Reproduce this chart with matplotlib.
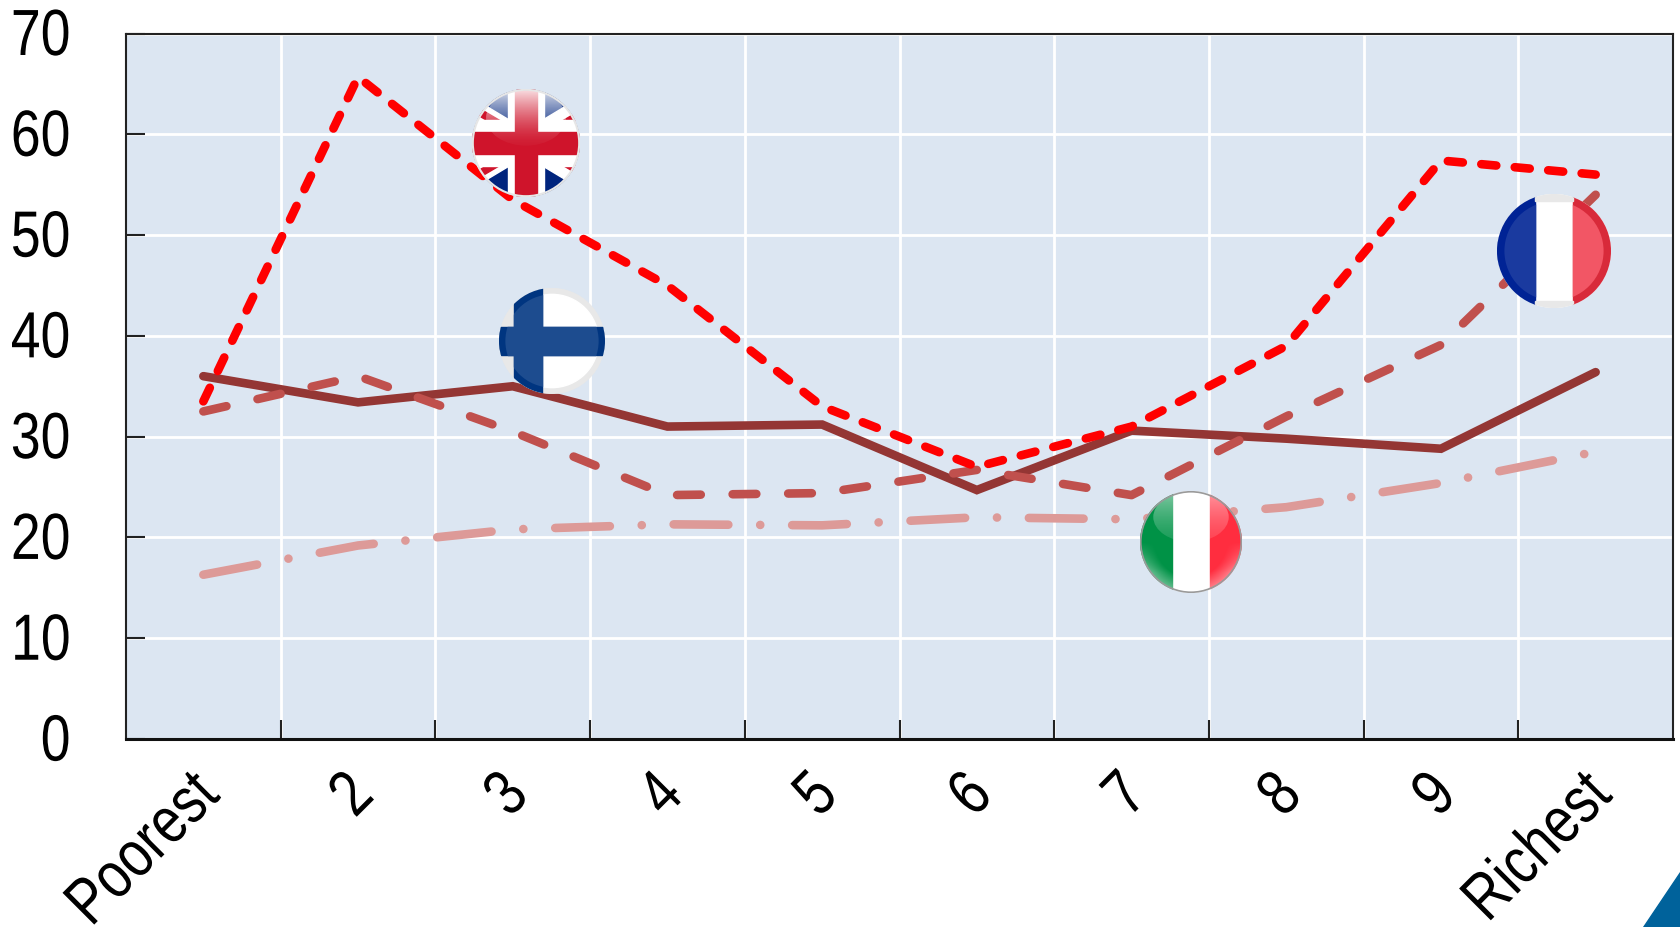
import numpy as np
import matplotlib
matplotlib.use("Agg")
import matplotlib.pyplot as plt
import matplotlib.patheffects as pe
from matplotlib.patches import Circle, Ellipse, Polygon, Rectangle
from matplotlib.transforms import Affine2D, ScaledTranslation

categories = ["Poorest", "2", "3", "4", "5", "6", "7", "8", "9", "Richest"]
uk = [33.5, 65.7, 53.5, 45.0, 33.0, 27.0, 31.0, 39.0, 57.4, 56.0]
finland = [36.0, 33.4, 35.0, 31.0, 31.2, 24.7, 30.6, 29.8, 28.8, 36.4]
france = [32.5, 36.0, 30.5, 24.2, 24.4, 26.7, 24.2, 32.0, 39.1, 54.0]
italy = [16.3, 19.2, 20.8, 21.3, 21.2, 22.0, 21.8, 23.0, 25.4, 28.5]
y_ticks = [0, 10, 20, 30, 40, 50, 60, 70]

W, H = 1681, 928
plt.rcParams["font.family"] = ["Liberation Sans", "DejaVu Sans"]
fig = plt.figure(figsize=(W / 100, H / 100), dpi=100, facecolor="white")


class Narrow(pe.AbstractPathEffect):
    """Condense text along its baseline about its right end or its middle."""

    def __init__(self, factor, pivot="end"):
        super().__init__()
        self.factor = factor
        self.pivot = pivot

    def draw_path(self, renderer, gc, tpath, affine, rgbFace=None):
        box = tpath.get_extents()
        at = box.x1 if self.pivot == "end" else (box.x0 + box.x1) / 2
        squeeze = Affine2D().translate(-at, 0).scale(self.factor, 1).translate(at, 0)
        renderer.draw_path(gc, tpath, squeeze + affine, rgbFace)


def px_axes(x0, y0, x1, y1, **kw):
    """Axes placed by pixel box, y measured from the top edge."""
    return fig.add_axes([x0 / W, 1 - y1 / H, (x1 - x0) / W, (y1 - y0) / H], **kw)


def nudge(label, dx, dy):
    label.set_transform(label.get_transform() + ScaledTranslation(dx / 100, dy / 100, fig.dpi_scale_trans))


ax = px_axes(126, 34.5, 1673, 740, facecolor="#dce6f2")
x = np.arange(len(categories)) + 0.5
lw = 6.2
ax.plot(x, italy, color="#dd9a98", lw=lw, dash_capstyle="round", dash_joinstyle="round",
        dashes=(6.35, 3.7, 0.01, 3.7), zorder=3)
ax.plot(x, finland, color="#943634", lw=lw, solid_capstyle="round", solid_joinstyle="miter", zorder=3)
ax.plot(x, france, color="#c0504d", lw=lw, dash_capstyle="round", dash_joinstyle="round",
        dashes=(2.75, 3.7), zorder=3)
ax.plot(x, uk, color="#ff0000", lw=lw, dash_capstyle="round", dash_joinstyle="round",
        dashes=(1.75, 2.15), zorder=4)

ax.set_xlim(0, len(categories))
ax.set_ylim(0, 70)
ax.set_yticks(y_ticks)
ax.set_yticklabels([str(v) for v in y_ticks])
ax.set_xticks(np.arange(1, len(categories)))
ax.set_xticklabels([])
ax.set_xticks(x, minor=True)
ax.set_xticklabels(categories, minor=True, rotation=45, ha="right", rotation_mode="anchor")
ax.grid(True, color="white", lw=2, zorder=1)
ax.set_axisbelow(True)
ax.tick_params(axis="x", which="major", direction="in", length=14, width=1.5, color="#222222")
ax.tick_params(axis="x", which="minor", length=0, pad=18, labelsize=47, labelcolor="black")
ax.tick_params(axis="y", direction="in", length=14, width=1.5, color="#222222", pad=61.5,
               labelsize=47, labelcolor="black")
for lab in ax.get_xticklabels(minor=True):
    lab.set_path_effects([Narrow(0.82)])
    nudge(lab, -15, 0)
for lab in ax.get_yticklabels():
    lab.set_ha("center")
    lab.set_path_effects([Narrow(0.82, pivot="mid")])
    # single digits stay flush with the right edge of the two-digit labels
    nudge(lab, 15 if len(lab.get_text()) == 1 else 0, 2)
for side in ("left", "top", "right"):
    ax.spines[side].set_linewidth(1.5)
    ax.spines[side].set_color("#222222")
ax.spines["bottom"].set_linewidth(2.2)
ax.spines["bottom"].set_color("#111111")


def badge(cx, cy, r):
    """Unit-square axes for a round flag, returning a clip circle too."""
    a = px_axes(cx - r, cy - r, cx + r, cy + r)
    a.set_xlim(-1, 1)
    a.set_ylim(-1, 1)
    a.axis("off")
    return a, Circle((0, 0), 1, transform=a.transData)


def add(a, clip, patch):
    a.add_patch(patch)
    patch.set_clip_path(clip)
    return patch


def gloss(a, peak=0.7, floor=0.1, base=0.0):
    """Soft highlight across the upper part of a badge."""
    grad = np.linspace(0, 1, 120)[:, None]
    rgba = np.ones((120, 1, 4))
    rgba[..., 3] = floor + (peak - floor) * grad ** 1.5
    im = a.imshow(rgba, extent=(-0.74, 0.74, base, 0.98), origin="lower", aspect="auto", zorder=8)
    im.set_clip_path(Ellipse((0, (base + 0.98) / 2), 1.48, 0.98 - base, transform=a.transData))
    a.set_xlim(-1, 1)
    a.set_ylim(-1, 1)


def under_glow(a, clip, peak=0.45):
    """Pale crescent along the lower rim of a badge."""
    yy, xx = np.mgrid[-1:1:160j, -1:1:160j]
    rgba = np.ones((160, 160, 4))
    rgba[..., 3] = peak * np.clip((np.hypot(xx, yy) - 0.7) / 0.3, 0, 1) * np.clip(-yy / 0.6, 0, 1)
    im = a.imshow(rgba, extent=(-1, 1, -1, 1), origin="lower", aspect="auto", zorder=7)
    im.set_clip_path(clip)
    a.set_xlim(-1, 1)
    a.set_ylim(-1, 1)


# Union Jack badge
a, c = badge(526, 144, 54)
add(a, c, Rectangle((-1, -1), 2, 2, color="#00247d", zorder=1))
for sx in (1, -1):
    add(a, c, Polygon([(-1.1, -0.9 * sx), (-1.1, -0.42 * sx), (1.1, 0.9 * sx), (1.1, 0.42 * sx)],
                      closed=True, color="white", zorder=2))
    add(a, c, Polygon([(-1.1, -0.78 * sx), (-1.1, -0.64 * sx), (1.1, 0.66 * sx), (1.1, 0.52 * sx)],
                      closed=True, color="#cf142b", zorder=3))
add(a, c, Rectangle((-1, -0.42), 2, 0.84, color="white", zorder=4))
add(a, c, Rectangle((-0.34, -1), 0.68, 2, color="white", zorder=4))
add(a, c, Rectangle((-1, -0.21), 2, 0.42, color="#cf142b", zorder=5))
add(a, c, Rectangle((-0.21, -1), 0.42, 2, color="#cf142b", zorder=5))
gloss(a, 0.85, 0.03, -0.05)
a.add_patch(Circle((0, 0), 0.985, fill=False, ec="#e6e6e6", lw=1.5, zorder=9))

# Finnish badge
a, c = badge(552, 342, 53)
add(a, c, Circle((0, 0), 1, color="#e8e8e8", zorder=1))
add(a, c, Circle((0, 0), 0.88, color="white", zorder=2))
add(a, c, Rectangle((-1, -1), 0.29, 2, color="#e8e8e8", zorder=2))
inner = Circle((0, 0), 0.88, transform=a.transData)
for box in (((-0.72, -1), 0.54, 2), ((-1, -0.27), 2, 0.54)):
    add(a, c, Rectangle(*box, color="#003580", zorder=3))
    add(a, inner, Rectangle(*box, color="#1d4c8f", zorder=4))

# Italian badge
a, c = badge(1191, 543, 51)
add(a, c, Rectangle((-1, -1), 2, 2, color="white", zorder=1))
add(a, c, Rectangle((-1, -1), 0.62, 2, color="#009246", zorder=2))
add(a, c, Rectangle((0.38, -1), 0.62, 2, color="#ff2d3f", zorder=2))
under_glow(a, c, 0.4)
gloss(a, 0.5, 0.12)
a.add_patch(Circle((0, 0), 0.985, fill=False, ec="#9a9a9a", lw=1.2, zorder=9))

# French badge
a, c = badge(1554, 252, 57)
add(a, c, Rectangle((-1, -1), 2, 2, color="white", zorder=1))
add(a, c, Rectangle((-1, -1), 0.67, 2, color="#002395", zorder=2))
add(a, c, Rectangle((0.33, -1), 0.67, 2, color="#d82a3a", zorder=2))
inner = Circle((0, 0), 0.87, transform=a.transData)
add(a, inner, Rectangle((-1, -1), 0.67, 2, color="#1a3a9f", zorder=3))
add(a, inner, Rectangle((0.33, -1), 0.67, 2, color="#f25665", zorder=3))
for yy in (-1, 0.87):
    add(a, c, Rectangle((-0.33, yy), 0.66, 0.13, color="#e8e8e8", zorder=4))

# Blue corner wedge at the page edge
fig.add_artist(Polygon([(1643 / W, 0), (1 + 1 / W, 0), (1 + 1 / W, 1 - 870 / H)], closed=True,
                       color="#00629b", transform=fig.transFigure))

fig.savefig("out.png", dpi=100, facecolor="white")
